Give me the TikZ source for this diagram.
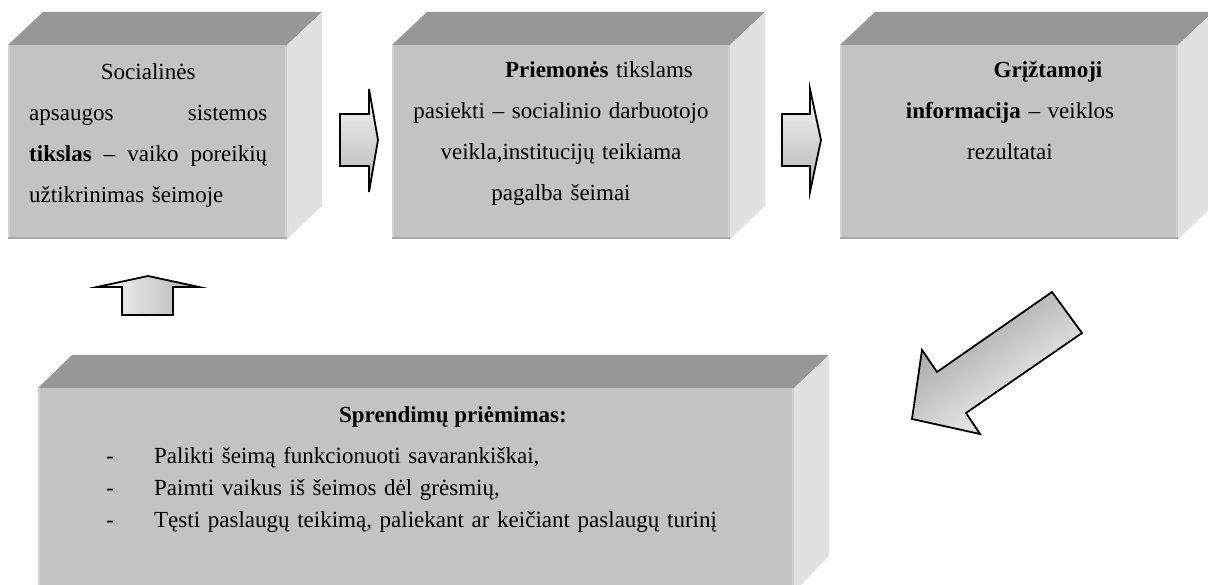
\documentclass[tikz,border=0pt]{standalone}
\usepackage{fontspec}
\setmainfont{Liberation Serif}
\definecolor{topgray}{HTML}{979797}
\definecolor{frontgray}{HTML}{C3C3C3}
\definecolor{sidegray}{HTML}{E1E1E1}
\definecolor{edgelight}{HTML}{D2D2D2}
\definecolor{edgedark}{HTML}{A9A9A9}
\begin{document}
\begin{tikzpicture}[x=1pt, y=-1pt,
	topface/.style={fill=topgray},
	frontface/.style={fill=frontgray},
	sideface/.style={fill=sidegray},
	lightedge/.style={draw=edgelight, line width=2pt},
	darkedge/.style={draw=edgedark, line width=1.5pt},
	boxtext/.style={inner sep=0pt, font=\fontsize{23}{41}\selectfont},
	listtext/.style={inner sep=0pt, font=\fontsize{23}{32}\selectfont},
	blockarrow/.style={draw=black, line width=1.8pt, line join=miter}]

	\useasboundingbox (0, 0) rectangle (1208, 585);

	\fill[topface] (8, 45) -- (43, 12) -- (322, 12) -- (287, 45) -- cycle;
	\fill[sideface] (287, 45) -- (322, 12) -- (322, 206) -- (287, 239) -- cycle;
	\fill[frontface] (8, 45) rectangle (287, 239);
	\draw[lightedge] (9, 46) -- (9, 238);
	\draw[lightedge] (286, 46) -- (286, 238);
	\draw[darkedge] (8, 238) -- (287, 238);

	\fill[topface] (392, 45) -- (427, 12) -- (765, 12) -- (730, 45) -- cycle;
	\fill[sideface] (730, 45) -- (765, 12) -- (765, 206) -- (730, 239) -- cycle;
	\fill[frontface] (392, 45) rectangle (730, 239);
	\draw[lightedge] (393, 46) -- (393, 238);
	\draw[lightedge] (729, 46) -- (729, 238);
	\draw[darkedge] (392, 238) -- (730, 238);

	\fill[topface] (840, 45) -- (875, 12) -- (1213, 12) -- (1178, 45) -- cycle;
	\fill[sideface] (1178, 45) -- (1213, 12) -- (1213, 206) -- (1178, 239) -- cycle;
	\fill[frontface] (840, 45) rectangle (1178, 239);
	\draw[lightedge] (841, 46) -- (841, 238);
	\draw[lightedge] (1177, 46) -- (1177, 238);
	\draw[darkedge] (840, 238) -- (1178, 238);

	\fill[topface] (38, 388) -- (72, 355) -- (829, 355) -- (794, 388) -- cycle;
	\fill[sideface] (794, 388) -- (829, 355) -- (829, 556) -- (794, 592) -- cycle;
	\fill[frontface] (38, 388) rectangle (794, 592);
	\draw[lightedge] (39, 389) -- (39, 592);
	\draw[lightedge] (793, 389) -- (793, 592);

	\node[boxtext, anchor=base west, text width=238pt] (tikslas) at (29, 80)
		{{\centering Socialinės\par}
		apsaugos\hfill sistemos\\
		\textbf{tikslas}\hfill --\hfill vaiko\hfill poreikių\\
		užtikrinimas šeimoje};

	\node[boxtext, anchor=base, text width=320pt, align=center] (priemones) at (561, 78)
		{\hspace*{76pt}\textbf{Priemonės} tikslams\\
		pasiekti -- socialinio darbuotojo\\
		veikla,institucijų teikiama\\
		pagalba šeimai};

	\node[boxtext, anchor=base, text width=320pt, align=center] (griztamoji) at (1010, 78)
		{\hspace*{76pt}\textbf{Grįžtamoji}\\
		\textbf{informacija} -- veiklos\\
		rezultatai};

	\node[listtext, anchor=base] (sprendimai) at (453, 422) {\textbf{Sprendimų priėmimas:}};
	\node[listtext, anchor=base west, text width=640pt] (galimybes) at (106, 463)
		{\makebox[48pt][l]{-}Palikti šeimą funkcionuoti savarankiškai,\\
		\makebox[48pt][l]{-}Paimti vaikus iš šeimos dėl grėsmių,\\
		\makebox[48pt][l]{-}Tęsti paslaugų teikimą, paliekant ar keičiant paslaugų turinį};

	\draw[blockarrow, top color=gray!5, bottom color=gray!60]
		(340, 114) -- (369, 114) -- (369, 89) -- (378, 140) -- (369, 192) -- (369, 166) -- (340, 166) -- cycle;
	\draw[blockarrow, top color=gray!5, bottom color=gray!60]
		(782, 114) -- (810, 114) -- (810, 89) -- (821, 140) -- (810, 192) -- (810, 166) -- (782, 166) -- cycle;
	\draw[blockarrow, left color=gray!5, right color=gray!60]
		(122, 315) -- (122, 287) -- (97, 287) -- (148, 276) -- (199, 287) -- (173, 287) -- (173, 315) -- cycle;
	\draw[blockarrow, top color=gray!80, bottom color=white, shading angle=35]
		(1052, 292) -- (1082, 333) -- (966, 413) -- (980, 434) -- (912, 419) -- (922, 350) -- (937, 372) -- cycle;

\end{tikzpicture}
\end{document}
